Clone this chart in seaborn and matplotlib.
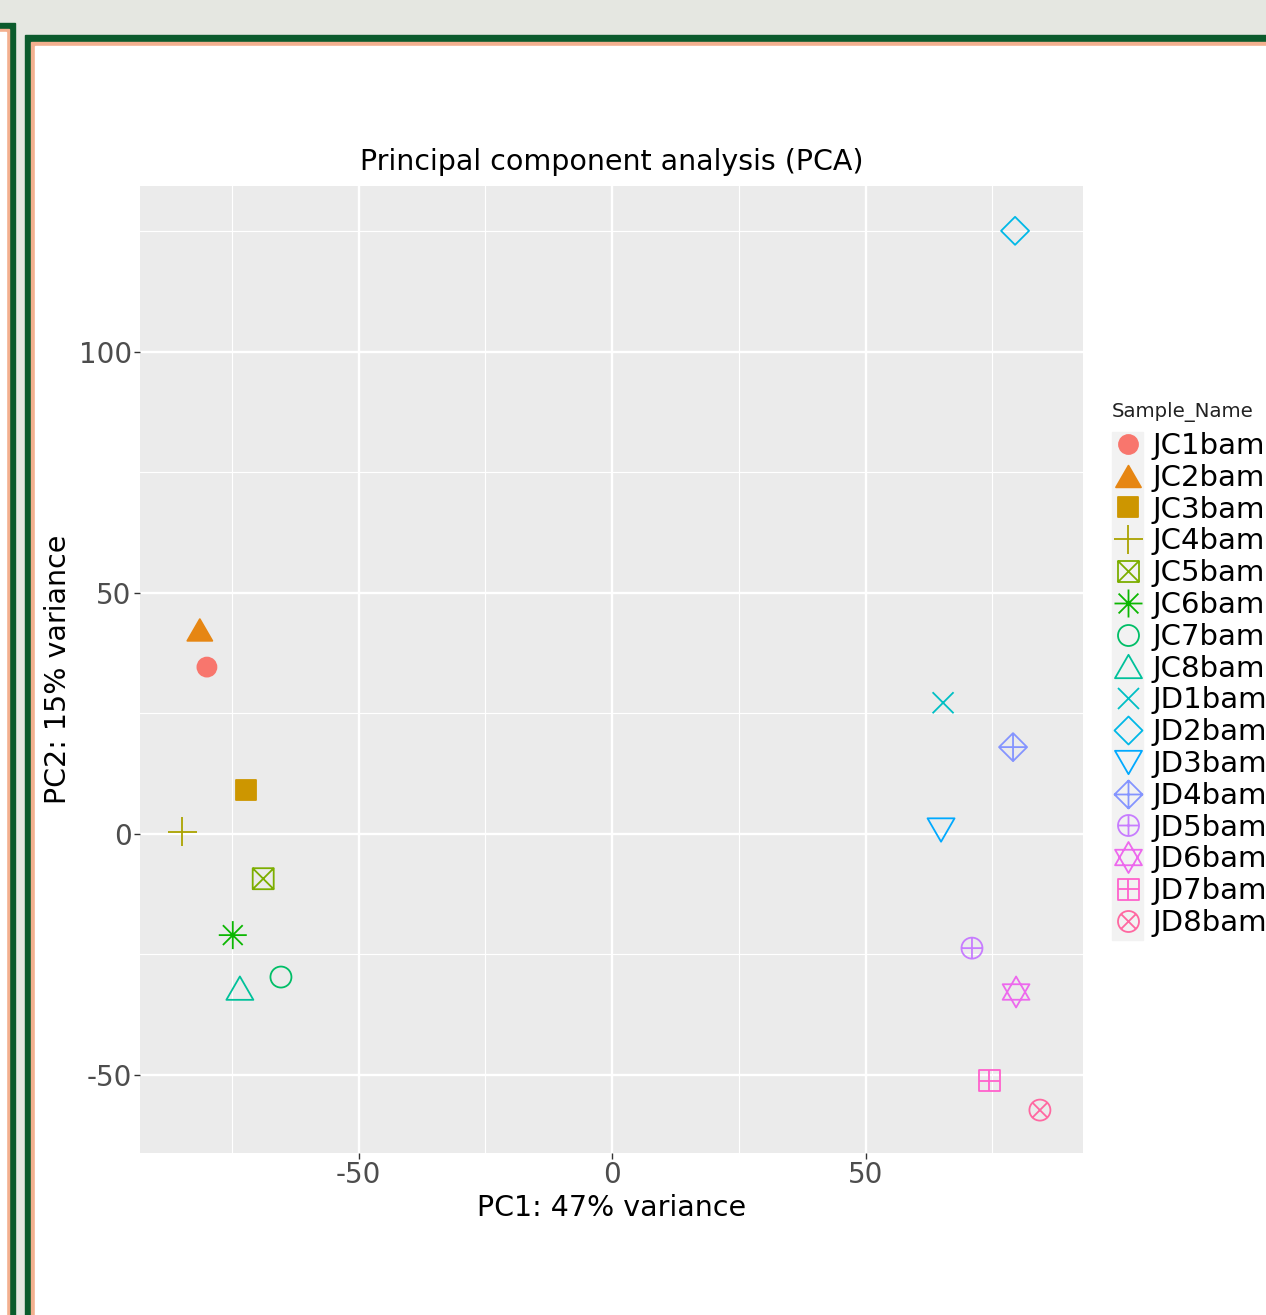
import numpy as np
import pandas as pd
import matplotlib
matplotlib.use("Agg")
import matplotlib.pyplot as plt
from matplotlib.path import Path
from matplotlib.markers import MarkerStyle
from matplotlib.lines import Line2D
from matplotlib.patches import Rectangle
from matplotlib.ticker import MultipleLocator
import seaborn as sns

# PCA scores
samples = ["JC1bam", "JC2bam", "JC3bam", "JC4bam", "JC5bam", "JC6bam", "JC7bam", "JC8bam",
           "JD1bam", "JD2bam", "JD3bam", "JD4bam", "JD5bam", "JD6bam", "JD7bam", "JD8bam"]
pc1 = [-79.9, -81.3, -72.2, -84.8, -68.8, -74.8, -65.3, -73.4,
       65.3, 79.5, 64.9, 79.1, 71.0, 79.7, 74.4, 84.4]
pc2 = [34.6, 42.3, 9.1, 0.4, -9.3, -21.0, -29.7, -32.0,
       27.2, 125.1, 0.8, 18.0, -23.7, -32.8, -51.2, -57.3]
x_ticks = [-50, 0, 50]
y_ticks = [-50, 0, 50, 100]

# ggplot shape look for each sample (shape id, width in px)
shape_ids = [16, 17, 15, 3, 7, 8, 1, 2, 4, 5, 6, 9, 10, 11, 12, 13]
shape_px = [19, 25, 20, 29, 21, 28, 21, 27, 21, 28, 27, 28, 21, 31, 21, 21]

plt.rcParams["axes.unicode_minus"] = False


def hcl(h, c=100, l=65):
    # same colours as scales::hue_pal (polar LUV -> sRGB)
    xn, yn, zn = 95.047, 100.0, 108.883
    den = xn + 15 * yn + 3 * zn
    un, vn = 4 * xn / den, 9 * yn / den
    u, v = c * np.cos(np.radians(h)), c * np.sin(np.radians(h))
    y = yn * ((l + 16) / 116) ** 3
    up, vp = u / (13 * l) + un, v / (13 * l) + vn
    x = 9 * y * up / (4 * vp)
    z = y * (12 - 3 * up - 20 * vp) / (4 * vp)
    m = np.array([[3.2404542, -1.5371385, -0.4985314],
                  [-0.9692660, 1.8760108, 0.0415560],
                  [0.0556434, -0.2040259, 1.0572252]])
    rgb = np.clip(m @ (np.array([x, y, z]) / 100), 0, 1)
    rgb = np.where(rgb <= 0.0031308, 12.92 * rgb, 1.055 * rgb ** (1 / 2.4) - 0.055)
    return tuple(np.clip(rgb, 0, 1))


colors = [hcl(15 + 360 / 16 * i) for i in range(len(samples))]


def seg(a, b):
    return Path([a, b], [Path.MOVETO, Path.LINETO])


def poly(pts):
    return Path(pts + [pts[0]], closed=True)


h3 = np.sqrt(3) / 2
square = poly([(-1, -1), (1, -1), (1, 1), (-1, 1)])
circle = Path.unit_circle()
plus = Path.make_compound_path(seg((-1, 0), (1, 0)), seg((0, -1), (0, 1)))
cross = Path.make_compound_path(seg((-1, -1), (1, 1)), seg((-1, 1), (1, -1)))
d = np.sqrt(0.5)
cross_in = Path.make_compound_path(seg((-d, -d), (d, d)), seg((-d, d), (d, -d)))
tri_up = poly([(-1, -h3), (1, -h3), (0, h3)])
tri_dn = poly([(-1, h3), (1, h3), (0, -h3)])
diamond = poly([(0, 1), (1, 0), (0, -1), (-1, 0)])
star_up = poly([(-1, -2 * h3 / 3), (1, -2 * h3 / 3), (0, 4 * h3 / 3)])
star_dn = poly([(-1, 2 * h3 / 3), (1, 2 * h3 / 3), (0, -4 * h3 / 3)])

shape_paths = {
    16: circle, 17: tri_up, 15: square, 3: plus,
    7: Path.make_compound_path(square, cross),
    8: Path.make_compound_path(plus, cross_in),
    1: circle, 2: tri_up, 4: cross, 5: diamond, 6: tri_dn,
    9: Path.make_compound_path(diamond, plus),
    10: Path.make_compound_path(circle, plus),
    11: Path.make_compound_path(star_up, star_dn),
    12: Path.make_compound_path(square, plus),
    13: Path.make_compound_path(circle, cross_in),
}
filled_ids = {15, 16, 17}

df = pd.DataFrame({"PC1": pc1, "PC2": pc2, "Sample_Name": samples})
palette = dict(zip(samples, colors))
markers = {s: shape_paths[k] for s, k in zip(samples, shape_ids)}
sizes = {s: (px * 0.72) ** 2 for s, px in zip(samples, shape_px)}

W, H = 1266, 1315
fig = plt.figure(figsize=(W / 100, H / 100), dpi=100)

# page frame around the plot (screenshot decoration)
bg = fig.add_axes([0, 0, 1, 1], zorder=0)
bg.set_xlim(0, W)
bg.set_ylim(H, 0)
bg.axis("off")
green, orange, grey = "#0B5B2C", "#F3B08F", "#E5E7E1"
bg.add_patch(Rectangle((0, 0), W, H, color=grey))
bg.add_patch(Rectangle((-10, 23), 25, H, color=green))
bg.add_patch(Rectangle((-10, 28.5), 19, H, color=orange))
bg.add_patch(Rectangle((-10, 32), 16, H, color="white"))
bg.add_patch(Rectangle((25, 35), W, H, color=green))
bg.add_patch(Rectangle((30.5, 41.5), W, H, color=orange))
bg.add_patch(Rectangle((34.5, 45.5), W, H, color="white"))
bg.add_patch(Rectangle((1112, 432), 31, 508, color="#F2F2F2"))

ax = fig.add_axes([140 / W, 1 - 1153 / H, 943 / W, 967 / H], zorder=1)
ax.set_facecolor("#EBEBEB")

sns.scatterplot(data=df, x="PC1", y="PC2", hue="Sample_Name", style="Sample_Name",
                size="Sample_Name", palette=palette, markers=markers, sizes=sizes,
                linewidth=1.3, legend=False, ax=ax, zorder=3)

# open shapes: colour only on the outline
pts = ax.collections[0]
cols = np.array([matplotlib.colors.to_rgba(c) for c in colors])
fc = cols.copy()
fc[[k not in filled_ids for k in shape_ids], 3] = 0
pts.set_edgecolors(cols)
pts.set_facecolors(fc)

ax.set_xlim(-93.1, 92.9)
ax.set_ylim(-66.2, 134.4)
ax.set_xticks(x_ticks)
ax.set_yticks(y_ticks)
ax.xaxis.set_minor_locator(MultipleLocator(25))
ax.yaxis.set_minor_locator(MultipleLocator(25))
ax.grid(which="major", color="white", linewidth=1.7)
ax.grid(which="minor", color="white", linewidth=0.8)
ax.set_axisbelow(True)
for sp in ax.spines.values():
    sp.set_visible(False)
ax.tick_params(which="major", length=4, width=1, color="#333333",
               labelsize=20, labelcolor="#4D4D4D", pad=2)
ax.tick_params(axis="x", which="major", pad=1.5)
ax.tick_params(which="minor", length=0)

ax.set_xlabel("PC1: 47% variance", fontsize=20.5, labelpad=4)
ax.set_ylabel("PC2: 15% variance", fontsize=20.5, labelpad=4.8)
ax.set_title("Principal component analysis (PCA)", fontsize=20.5, pad=11.5)

handles = []
for c, k, px in zip(colors, shape_ids, shape_px):
    handles.append(Line2D([], [], linestyle="", marker=MarkerStyle(shape_paths[k]),
                          markersize=px * 0.72, markeredgewidth=1.3, markeredgecolor=c,
                          markerfacecolor=c if k in filled_ids else "none"))
fig.legend(handles, samples, loc="upper left", bbox_to_anchor=(1112 / W, 1 - 432 / H),
           frameon=False, fontsize=21, labelspacing=0.13, handlelength=1.1,
           handletextpad=0.3, borderpad=0, borderaxespad=0)
fig.text(1112 / W, 1 - 412 / H, "Sample_Name", fontsize=14.2, color="#222222",
         ha="left", va="center")

fig.savefig("out.png", dpi=100)
